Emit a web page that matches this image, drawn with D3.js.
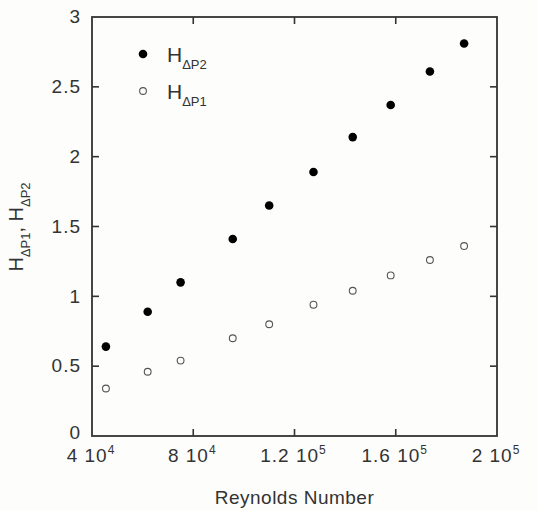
<!DOCTYPE html>
<html>
<head>
<meta charset="utf-8">
<script src="https://cdn.jsdelivr.net/npm/d3@7"></script>
<style>
  body { margin: 0; background: #fdfdfb; }
  svg { display: block; font-family: "Liberation Sans", Arial, sans-serif; }
</style>
</head>
<body>
<svg id="chart" width="538" height="510"></svg>
<script>
// Reynolds number for each measurement
const reynolds = [45500, 62000, 75000, 95600, 110000, 127500, 143000, 158000, 173500, 187000];
// H_dP2 (filled) and H_dP1 (open)
const hP2 = [0.64, 0.89, 1.10, 1.41, 1.65, 1.89, 2.14, 2.37, 2.61, 2.81];
const hP1 = [0.34, 0.46, 0.54, 0.70, 0.80, 0.94, 1.04, 1.15, 1.26, 1.36];

const xTicks = [40000, 80000, 120000, 160000, 200000];
const xTickMant = ["4", "8", "1.2", "1.6", "2"];
const xTickExp = ["4", "4", "5", "5", "5"];
const yTicks = [0, 0.5, 1, 1.5, 2, 2.5, 3];

const margin = { top: 17, right: 41, bottom: 74, left: 92 };
const width = 538, height = 510;
const chartWidth = width - margin.left - margin.right;
const chartHeight = height - margin.top - margin.bottom;
const ink = "#333";

const svg = d3.select("#chart");
const g = svg.append("g").attr("transform", `translate(${margin.left},${margin.top})`);

const x = d3.scaleLinear().domain([40000, 200000]).range([0, chartWidth]);
const y = d3.scaleLinear().domain([0, 3]).range([chartHeight, 0]);

// frame
g.append("rect")
  .attr("width", chartWidth).attr("height", chartHeight)
  .attr("fill", "none").attr("stroke", ink).attr("stroke-width", 1.8);

// inward ticks on all four sides
const tickLen = 7;
g.selectAll(".xt").data(xTicks.slice(1, -1)).enter().append("g").each(function (d) {
  const s = d3.select(this);
  s.append("line").attr("x1", x(d)).attr("x2", x(d)).attr("y1", chartHeight).attr("y2", chartHeight - tickLen);
  s.append("line").attr("x1", x(d)).attr("x2", x(d)).attr("y1", 0).attr("y2", tickLen);
}).attr("stroke", ink).attr("stroke-width", 1.6);

g.selectAll(".yt").data(yTicks.slice(1, -1)).enter().append("g").each(function (d) {
  const s = d3.select(this);
  s.append("line").attr("y1", y(d)).attr("y2", y(d)).attr("x1", 0).attr("x2", tickLen);
  s.append("line").attr("y1", y(d)).attr("y2", y(d)).attr("x1", chartWidth).attr("x2", chartWidth - tickLen);
}).attr("stroke", ink).attr("stroke-width", 1.6);

// y tick labels (the 0 sits a little high so it clears the x labels)
g.selectAll(".ylab").data(yTicks).enter().append("text")
  .attr("x", -11).attr("y", d => y(d) - (d === 0 ? 3 : 0)).attr("dy", "0.33em")
  .attr("text-anchor", "end").attr("fill", ink).attr("font-size", 19)
  .attr("letter-spacing", 1)
  .text(d => d);

// x tick labels with exponents
xTicks.forEach((d, i) => {
  const t = g.append("text")
    .attr("x", x(d) - 1).attr("y", chartHeight + 26)
    .attr("text-anchor", "middle").attr("fill", ink).attr("font-size", 19)
    .attr("letter-spacing", 1);
  t.append("tspan").text(xTickMant[i] + " 10");
  t.append("tspan").attr("font-size", 12).attr("dy", -8).text(xTickExp[i]);
});

// axis titles
g.append("text")
  .attr("x", chartWidth / 2).attr("y", chartHeight + 68)
  .attr("text-anchor", "middle").attr("fill", ink).attr("font-size", 19)
  .attr("letter-spacing", 0.5)
  .text("Reynolds Number");

const yt = svg.append("text")
  .attr("transform", "translate(23,227) rotate(-90)")
  .attr("text-anchor", "middle").attr("fill", ink).attr("font-size", 20);
yt.append("tspan").text("H");
yt.append("tspan").attr("font-size", 13).attr("dy", 7).text("ΔP1");
yt.append("tspan").attr("dy", -7).text(", H");
yt.append("tspan").attr("font-size", 13).attr("dy", 7).text("ΔP2");

// data points
g.selectAll(".p2").data(reynolds).enter().append("circle")
  .attr("cx", d => x(d)).attr("cy", (d, i) => y(hP2[i])).attr("r", 4.3)
  .attr("fill", "#000");

g.selectAll(".p1").data(reynolds).enter().append("circle")
  .attr("cx", d => x(d)).attr("cy", (d, i) => y(hP1[i])).attr("r", 3.4)
  .attr("fill", "none").attr("stroke", "#555").attr("stroke-width", 1.1);

// legend
const legend = [
  { label: "ΔP2", filled: true, yy: 54 },
  { label: "ΔP1", filled: false, yy: 91 }
];
legend.forEach(l => {
  svg.append("circle").attr("cx", 143).attr("cy", l.yy)
    .attr("r", l.filled ? 4.3 : 3.4)
    .attr("fill", l.filled ? "#000" : "none")
    .attr("stroke", l.filled ? "none" : "#555").attr("stroke-width", 1.1);
  const t = svg.append("text").attr("x", 167).attr("y", l.yy + 8)
    .attr("fill", ink).attr("font-size", 21);
  t.append("tspan").text("H");
  t.append("tspan").attr("font-size", 13).attr("dy", 7).text(l.label);
});
</script>
</body>
</html>
